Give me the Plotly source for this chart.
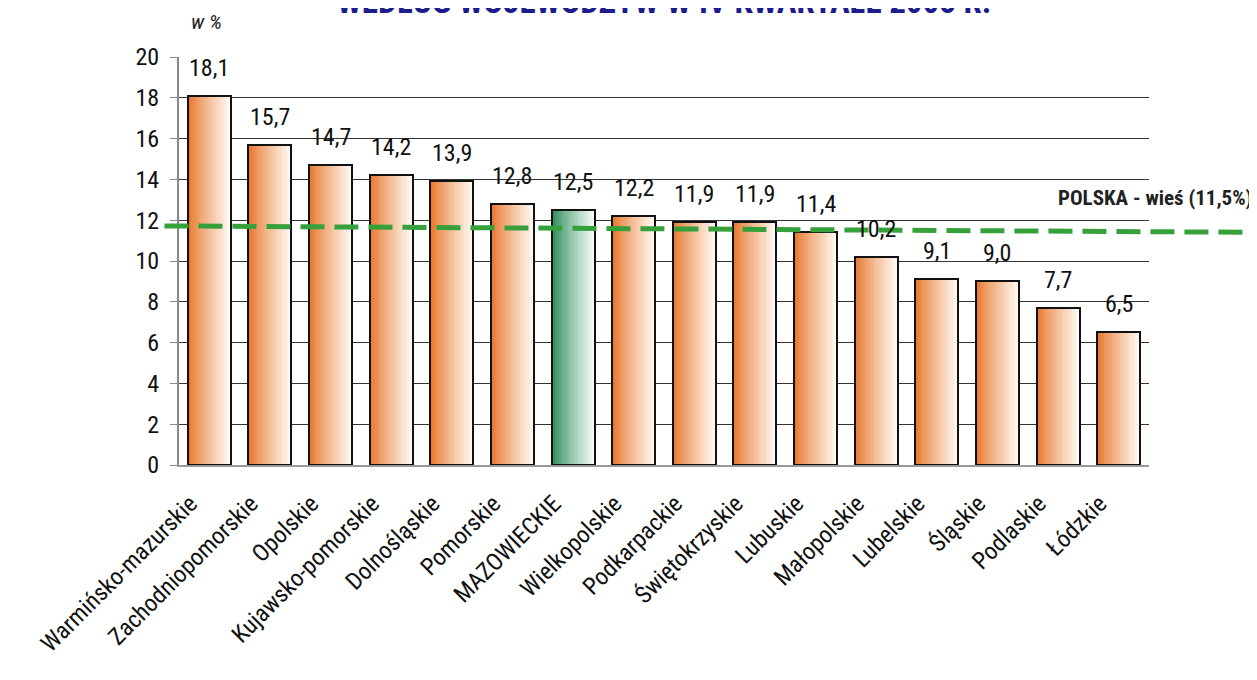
import plotly.graph_objects as go

regiony = ["Warmińsko-mazurskie", "Zachodniopomorskie", "Opolskie", "Kujawsko-pomorskie",
           "Dolnośląskie", "Pomorskie", "MAZOWIECKIE", "Wielkopolskie", "Podkarpackie",
           "Świętokrzyskie", "Lubuskie", "Małopolskie", "Lubelskie", "Śląskie",
           "Podlaskie", "Łódzkie"]
wartosci = [18.1, 15.7, 14.7, 14.2, 13.9, 12.8, 12.5, 12.2, 11.9, 11.9, 11.4, 10.2, 9.1, 9.0, 7.7, 6.5]
polska_wies = 11.5
y_ticks = [0, 2, 4, 6, 8, 10, 12, 14, 16, 18, 20]

FONT = "Roboto Condensed, Liberation Sans Narrow, Arial Narrow, sans-serif"
BAR_W = 0.71
N_SLICES = 24


def mix(c1, c2, t):
    return "rgb(%d,%d,%d)" % tuple(round(a + (b - a) * t) for a, b in zip(c1, c2))


orange = ((232, 118, 44), (255, 250, 243))
green = ((44, 138, 88), (244, 251, 247))

fig = go.Figure()

# gradient imitation: thin slices side by side
sw = BAR_W / N_SLICES
for i in range(N_SLICES):
    t = (i / (N_SLICES - 1)) ** 0.85
    cols = [mix(*(green if r == "MAZOWIECKIE" else orange), t) for r in regiony]
    fig.add_bar(
        x=regiony, y=wartosci,
        width=sw * 1.6 if i < N_SLICES - 1 else sw,
        offset=-BAR_W / 2 + i * sw,
        marker=dict(color=cols, line=dict(width=0)),
        hoverinfo="skip", showlegend=False,
    )

# outline
fig.add_bar(
    x=regiony, y=wartosci, width=BAR_W, offset=-BAR_W / 2,
    marker=dict(color="rgba(0,0,0,0)", line=dict(color="#111", width=2)),
    showlegend=False,
)

for r, v in zip(regiony, wartosci):
    fig.add_annotation(x=r, y=v, text=f"{v:.1f}".replace(".", ","), showarrow=False,
                       yanchor="bottom", yshift=12,
                       font=dict(family=FONT, size=24, color="#111"))

# POLSKA - wieś dashed line
fig.add_shape(type="line", xref="paper", yref="y", x0=-0.015, x1=1.13,
              y0=polska_wies + 0.22, y1=polska_wies - 0.1,
              line=dict(color="#36A13A", width=5, dash="24px,10px"))
fig.add_annotation(xref="paper", yref="y", x=1.108, y=13.1, xanchor="right",
                   text="<b>POLSKA - wieś (11,5%)</b>", showarrow=False,
                   font=dict(family=FONT, size=21, color="#222"))

fig.add_annotation(xref="paper", yref="paper", x=0.5, y=1.083, yanchor="bottom",
                   text="<b>WEDŁUG WOJEWÓDZTW W IV KWARTALE 2008 R.</b>", showarrow=False,
                   font=dict(family=FONT, size=33, color="#1C1C8C"))
fig.add_annotation(xref="paper", yref="paper", x=0.028, y=1.12, xanchor="center",
                   text="<i>w %</i>", showarrow=False,
                   font=dict(family=FONT, size=21, color="#222"))

fig.update_layout(
    width=1257, height=680,
    margin=dict(l=171, r=116, t=49, b=223),
    paper_bgcolor="white", plot_bgcolor="white",
    barmode="overlay", bargap=0,
    font=dict(family=FONT, size=20, color="#111"),
    xaxis=dict(tickangle=-45, showgrid=False, showline=True, linecolor="#999", linewidth=2,
               ticks="", ticklabelstandoff=13, ticklabelshift=-19,
               tickfont=dict(family=FONT, size=24, color="#111")),
    yaxis=dict(range=[0, 20], tickvals=y_ticks, showgrid=True, gridcolor="#333", gridwidth=1,
               showline=True, linecolor="#888", linewidth=2, ticks="outside", ticklen=7,
               ticklabelstandoff=6,
               tickcolor="#888", zeroline=False,
               tickfont=dict(family=FONT, size=24, color="#111")),
)

fig.write_html("out.html")
